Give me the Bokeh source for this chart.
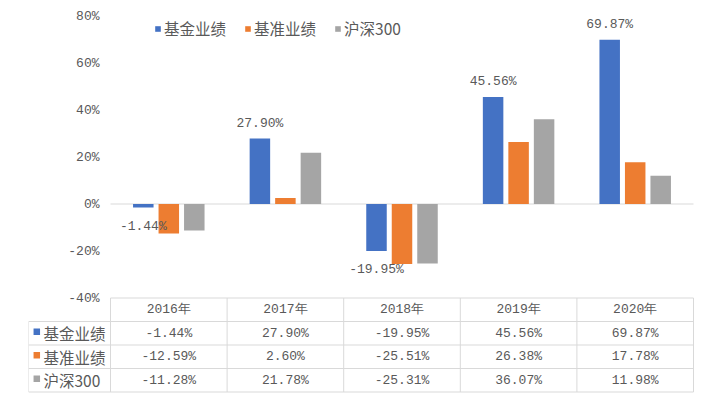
from bokeh.plotting import figure
from bokeh.models import (ColumnDataSource, Range1d, FixedTicker,
                          PrintfTickFormatter, Legend, LegendItem)
from bokeh.transform import dodge
from bokeh.core.properties import value
from bokeh.embed import file_html
from bokeh.resources import INLINE

# ---- data ----
years = ["2016年", "2017年", "2018年", "2019年", "2020年"]
series_names = ["基金业绩", "基准业绩", "沪深300"]
fund = [-1.44, 27.90, -19.95, 45.56, 69.87]
bench = [-12.59, 2.60, -25.51, 26.38, 17.78]
hs300 = [-11.28, 21.78, -25.31, 36.07, 11.98]
y_ticks = [-40, -20, 0, 20, 40, 60, 80]

# ---- style / layout ----
colors = ["#4472C4", "#ED7D31", "#A5A5A5"]
TXT = "#595959"
GRID = "#D9D9D9"
NUM_FONT = "Liberation Mono"
CJK_FONT = "Noto Sans CJK SC"

W, H = 701, 396
FRAME_L = 28          # canvas x of table's label column / frame left
PLOT_L = 110          # canvas x where the category area starts
PLOT_R = 693          # canvas x where the category area ends
PX_PER_PCT = 2.35
ZERO_Y = 203.5
n = len(years)
CAT_PX = (PLOT_R - PLOT_L) / n

def dx(px):  # pixel distance -> category units
    return px / CAT_PX

def dy(px):  # pixel distance -> percent units
    return px / PX_PER_PCT

x_start = -dx(PLOT_L - FRAME_L)
x_end = n + dx(W - PLOT_R)
y_top = ZERO_Y / PX_PER_PCT
y_bot = -(H - ZERO_Y) / PX_PER_PCT

p = figure(width=W, height=H, x_range=Range1d(x_start, x_end),
           y_range=Range1d(y_bot, y_top),
           x_axis_location=None, y_axis_location="left",
           output_backend="svg", toolbar_location=None,
           min_border_left=FRAME_L, min_border_right=0,
           min_border_top=0, min_border_bottom=0)
p.outline_line_color = None
p.xgrid.visible = False
p.ygrid.visible = False

ax = p.yaxis[0]
ax.ticker = FixedTicker(ticks=y_ticks)
ax.formatter = PrintfTickFormatter(format="%d%%")
ax.axis_line_color = None
ax.major_tick_line_color = None
ax.minor_tick_line_color = None
ax.major_tick_out = 0
ax.major_tick_in = 0
ax.major_label_standoff = -(99 - FRAME_L)
ax.major_label_text_font = NUM_FONT
ax.major_label_text_font_size = "13px"
ax.major_label_text_color = TXT

xc = [i + 0.5 for i in range(n)]
src = ColumnDataSource(dict(xc=xc, year=years, fund=fund, bench=bench,
                            hs300=hs300))

# zero line across the category area
p.segment(x0=[0], x1=[n], y0=[0], y1=[0], line_color=GRID, line_width=1)

keys = ["fund", "bench", "hs300"]
offs = [-dx(25.5), 0.0, dx(25.5)]
bar_w = dx(20.5)
rends = []
for k, off, c in zip(keys, offs, colors):
    r = p.vbar(x=dodge("xc", off), top=k, bottom=0, width=bar_w,
               source=src, fill_color=c, line_color=None)
    rends.append(r)

# data labels on fund bars
src.data["lbl"] = [f"{v:.2f}%" for v in fund]
src.data["loff"] = [-15 if v >= 0 else 19 for v in fund]
p.text(x=dodge("xc", offs[0]), y="fund", text="lbl", y_offset="loff",
       source=src, text_align="center", text_baseline="middle",
       text_font=value(NUM_FONT), text_font_size="13px", text_color=TXT)

# legend
legend = Legend(items=[LegendItem(label=nm, renderers=[r])
                       for nm, r in zip(series_names, rends)],
                orientation="horizontal", location=(126, 357),
                glyph_width=7, glyph_height=7, label_standoff=3,
                spacing=18, padding=0, margin=0, border_line_color=None,
                background_fill_alpha=0, label_text_font=CJK_FONT,
                label_text_font_size="15.5px", label_text_color=TXT)
p.add_layout(legend)

# ---- data table ----
row_lines = [-40, -50, -60, -70, -80]
hdr_y = -45
row_y = [-55, -65, -75]
left_x = x_start

# horizontal lines
p.segment(x0=[0] + [left_x] * 4, x1=[n] * 5, y0=row_lines, y1=row_lines,
          line_color=GRID, line_width=1)
# vertical lines
p.segment(x0=list(range(n + 1)), x1=list(range(n + 1)),
          y0=[row_lines[0]] * (n + 1), y1=[row_lines[-1]] * (n + 1),
          line_color=GRID, line_width=1)
p.segment(x0=[left_x], x1=[left_x], y0=[row_lines[1]], y1=[row_lines[-1]],
          line_color=GRID, line_width=1)

# header
hsrc = ColumnDataSource(dict(xc=xc, y=[hdr_y] * n, year=years))
p.text(x="xc", y="y", text="year", source=hsrc, text_align="center",
       text_baseline="middle", text_font=value(NUM_FONT),
       text_font_size="13px", text_color=TXT)

for vals, ry in zip([fund, bench, hs300], row_y):
    s = ColumnDataSource(dict(xc=xc, y=[ry] * n,
                              t=[f"{v:.2f}%" for v in vals]))
    p.text(x="xc", y="y", text="t", source=s, text_align="center",
           text_baseline="middle", text_font=value(NUM_FONT),
           text_font_size="13px", text_color=TXT)

# row headers: colour keys + names
ksrc = ColumnDataSource(dict(x=[left_x + dx(8.3)] * 3,
                             y=[ry + dy(1.5) for ry in row_y],
                             c=colors, name=series_names,
                             tx=[left_x + dx(15)] * 3, ty=row_y))
p.rect(x="x", y="y", width=6.5, height=6.5, width_units="screen",
       height_units="screen", fill_color="c", line_color=None, source=ksrc)
p.text(x="tx", y="ty", text="name", source=ksrc, text_align="left",
       text_baseline="middle", text_font=value(CJK_FONT),
       text_font_size="15.5px", text_color=TXT)

open("out.html", "w").write(file_html(p, INLINE))
